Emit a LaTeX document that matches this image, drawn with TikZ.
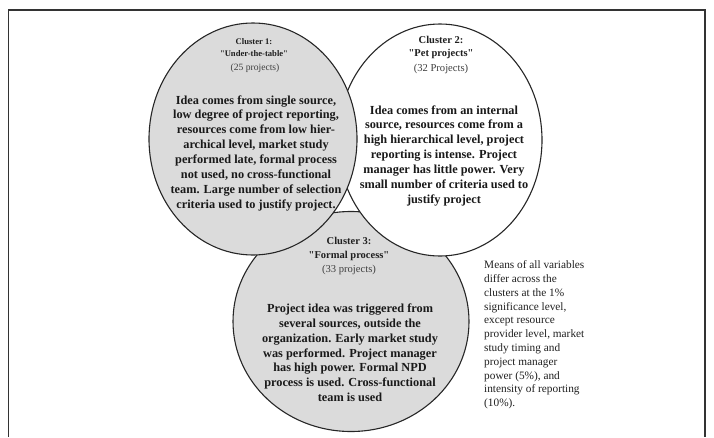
\documentclass[tikz,border=0pt]{standalone}
\usepackage{fontspec}
\setmainfont{Liberation Serif}
\begin{document}
\begin{tikzpicture}[x=1pt, y=-1pt,
  frameline/.style={draw=black!80, line width=1.2pt},
  blob/.style={draw=black!85, line width=1.1pt},
  grayblob/.style={blob, fill=black!14},
  whiteblob/.style={blob, fill=white},
  headsmall/.style={align=center, inner sep=0pt, anchor=north, text=black!88,
    font=\bfseries\fontsize{8.6}{12.2}\selectfont},
  head/.style={align=center, inner sep=0pt, anchor=north, text=black!88,
    font=\bfseries\fontsize{10.5}{13.2}\selectfont},
  countlbl/.style={align=center, inner sep=0pt, anchor=north, text=black!75,
    font=\fontsize{10.6}{13}\selectfont},
  body/.style={align=center, inner sep=0pt, anchor=north, text=black!90,
    font=\bfseries\fontsize{12.3}{14.85}\selectfont},
  note/.style={align=left, inner sep=0pt, anchor=north west, text=black!88,
    font=\fontsize{11.3}{13.8}\selectfont}
]
\useasboundingbox (0,0) rectangle (714,437);

% open frame: top, left and right sides
\coordinate (fbl) at (8.5,437);
\coordinate (ftl) at (8.5,10);
\coordinate (ftr) at (705,10);
\coordinate (fbr) at (705,437);
\draw[frameline] (fbl) -- (ftl) -- (ftr) -- (fbr);

% the three clusters, back to front
\coordinate (c3) at (351,321.5);
\coordinate (c2) at (440,140);
\coordinate (c1) at (253,139);
\draw[grayblob]  (c3) ellipse [x radius=118pt, y radius=110pt];
\draw[whiteblob] (c2) ellipse [x radius=102pt, y radius=116pt];
\draw[grayblob]  (c1) ellipse [x radius=104pt, y radius=116pt];

% cluster 1
\node[headsmall] (h1) at (254,38.5) {Cluster 1:\\\textquotedbl Under-the-table\textquotedbl};
\node[countlbl, font=\fontsize{9.6}{12}\selectfont] (n1) at (255,63.3) {(25 projects)};
\node[body] (b1) at (256,95.2) {Idea comes from single source,\\
low degree of project reporting,\\
resources come from low hier-\\
archical level, market study\\
performed late, formal process\\
not used, no cross-functional\\
team. Large number of selection\\
criteria used to justify project.};

% cluster 2
\node[head] (h2) at (441,35.9) {Cluster 2:\\\textquotedbl Pet projects\textquotedbl};
\node[countlbl] (n2) at (441,63.8) {(32 Projects)};
\node[body] (b2) at (444,105.2) {Idea comes from an internal\\
source, resources come from a\\
high hierarchical level, project\\
reporting is intense. Project\\
manager has little power. Very\\
small number of criteria used to\\
justify project};

% cluster 3
\node[head] (h3) at (349,237.4) {Cluster 3:\\\textquotedbl Formal process\textquotedbl};
\node[countlbl] (n3) at (349,265) {(33 projects)};
\node[body] (b3) at (350,303.7) {Project idea was triggered from\\
several sources, outside the\\
organization. Early market study\\
was performed. Project manager\\
has high power. Formal NPD\\
process is used. Cross-functional\\
team is used};

% significance note
\node[note] (sig) at (484,260.6) {Means of all variables\\
differ across the\\
clusters at the 1\%\\
significance level,\\
except resource\\
provider level, market\\
study timing and\\
project manager\\
power (5\%), and\\
intensity of reporting\\
(10\%).};
\end{tikzpicture}
\end{document}
